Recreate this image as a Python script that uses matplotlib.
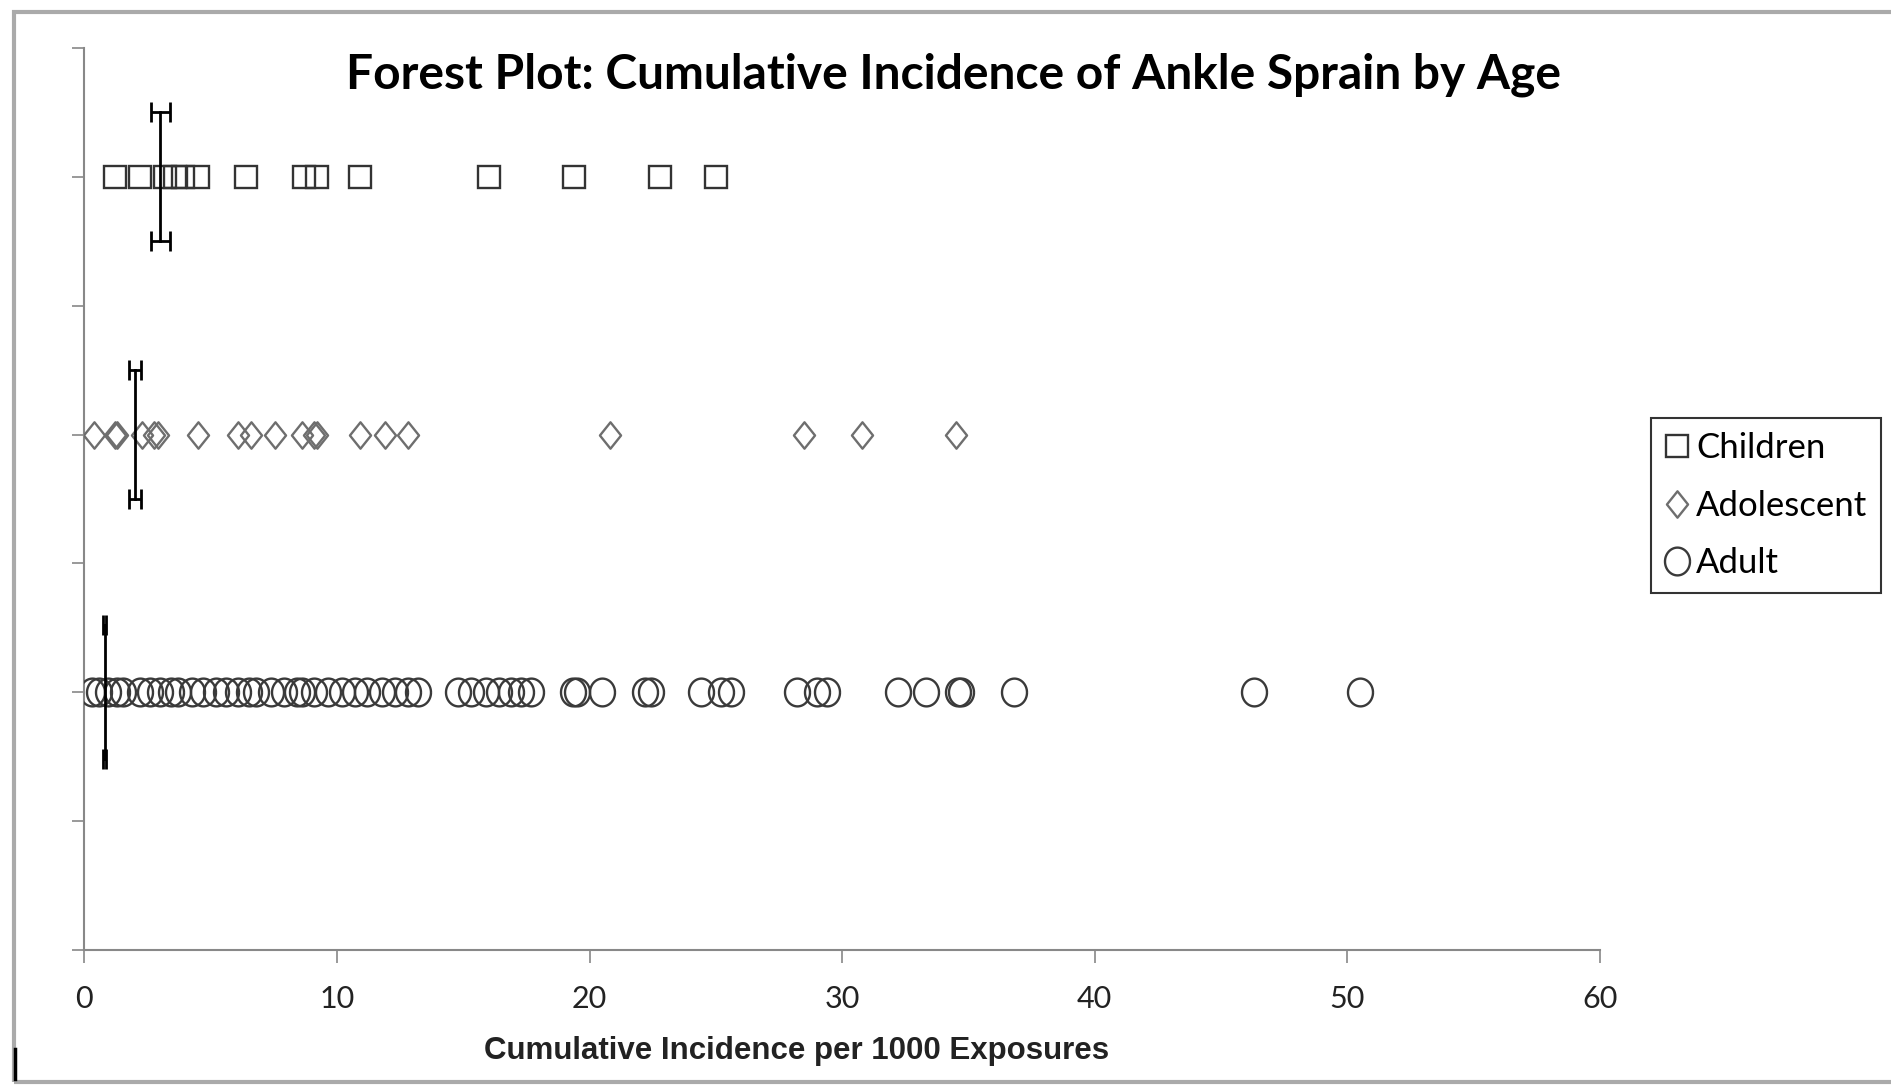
import matplotlib
matplotlib.use("Agg")
import matplotlib.pyplot as plt
from matplotlib.patches import Rectangle
from matplotlib.lines import Line2D
from matplotlib.path import Path
import numpy as np

# ---- data ----
groups = ["Children", "Adolescent", "Adult"]
row_y = [6, 4, 2]

children = [1.2, 2.2, 3.2, 3.6, 3.9, 4.5, 6.4, 8.7, 9.2, 10.9, 16.0, 19.4, 22.8, 25.0]
adolescent = [0.4, 1.2, 1.3, 2.3, 2.75, 2.9, 4.5, 6.1, 6.6, 7.55, 8.6, 9.1, 9.2,
              10.9, 11.9, 12.8, 20.8, 28.5, 30.8, 34.5]
adult = [0.3, 0.6, 0.95, 1.3, 1.55,
         2.2, 2.6, 3.0, 3.45, 3.7,
         4.25, 4.7, 5.2, 5.6, 6.1, 6.5, 6.8,
         7.4, 7.9, 8.4, 8.6, 9.1, 9.65, 10.2, 10.7, 11.2, 11.8, 12.3, 12.8, 13.2,
         14.8, 15.3, 15.9, 16.4, 16.9, 17.3, 17.7,
         19.35, 19.5, 20.5, 22.2, 22.45, 24.4, 25.2, 25.6,
         28.2, 29.0, 29.4, 32.2, 33.3, 34.6, 34.7, 36.8, 46.3, 50.5]

pooled_est = [3.0, 2.0, 0.8]
pooled_half_ci = [0.38, 0.25, 0.05]
pooled_span = [0.5, 0.5, 0.52]

x_ticks = [0, 10, 20, 30, 40, 50, 60]
y_ticks = [0, 1, 2, 3, 4, 5, 6, 7]

title = "Forest Plot: Cumulative Incidence of Ankle Sprain by Age"
xlabel = "Cumulative Incidence per 1000 Exposures"

# ---- styles ----
diamond = Path([(-0.4, 0), (0, 0.5), (0.4, 0), (0, -0.5), (-0.4, 0)],
               [Path.MOVETO, Path.LINETO, Path.LINETO, Path.LINETO, Path.CLOSEPOLY])
t = np.linspace(0, 2 * np.pi, 60)
ellipse = Path(np.column_stack([0.45 * np.cos(t), 0.5 * np.sin(t)]))
styles = [
    dict(marker="s", ms=15.5, mec="#333333"),
    dict(marker=diamond, ms=19, mec="#6e6e6e"),
    dict(marker=ellipse, ms=20, mec="#3a3a3a"),
]

fig = plt.figure(figsize=(18.91, 10.86), dpi=100)
ax = fig.add_axes([0.0446, 0.1252, 0.8015, 0.8306])

series = [children, adolescent, adult]
for vals, y, st in zip(series, row_y, styles):
    ax.plot(vals, [y] * len(vals), linestyle="none", marker=st["marker"],
            ms=st["ms"], mfc="none", mec=st["mec"], mew=1.7, zorder=3)

for est, y, h, sp in zip(pooled_est, row_y, pooled_half_ci, pooled_span):
    ax.errorbar([est, est], [y + sp, y - sp], xerr=[h, h], color="black",
                lw=2, elinewidth=2, capsize=7, capthick=2, zorder=4)

ax.set_xlim(0, 60)
ax.set_ylim(0, 7)
ax.set_xticks(x_ticks)
ax.set_xticklabels([str(t) for t in x_ticks], fontsize=22, family="Lato", color="#222222")
ax.set_yticks(y_ticks)
ax.set_yticklabels([])
ax.tick_params(axis="x", direction="out", length=9, width=1.2, color="#888888", pad=16)
ax.tick_params(axis="y", direction="out", length=9, width=1.2, color="#888888")
for s in ["top", "right"]:
    ax.spines[s].set_visible(False)
for s in ["left", "bottom"]:
    ax.spines[s].set_color("#888888")
    ax.spines[s].set_linewidth(1.5)

fig.text(0.504, 0.931, title, ha="center", va="center", fontsize=34.5,
         fontweight="bold", family="Lato", color="black")
fig.text(0.421, 0.032, xlabel, ha="center", va="center", fontsize=22.5,
         fontweight="bold", family="Liberation Sans", color="#222222")

handles = [Line2D([], [], linestyle="none", marker=st["marker"], ms=st["ms"],
                  mfc="none", mec=st["mec"], mew=1.7) for st in styles]
leg = fig.legend(handles, groups, loc="upper left", bbox_to_anchor=(0.873, 0.615),
                 frameon=True, fancybox=False, handlelength=0.7, handletextpad=0.2,
                 borderpad=0.4, borderaxespad=0, labelspacing=0.74,
                 prop=dict(family="Lato", size=25))
leg.get_frame().set_edgecolor("black")
leg.get_frame().set_linewidth(1.5)

# outer chart border
fig.patches.append(Rectangle((0.0074, 0.0037), 1.2, 0.985, transform=fig.transFigure,
                             fill=False, edgecolor="#aaaaaa", lw=3, zorder=0))
fig.add_artist(Line2D([0.0077, 0.0077], [0.006, 0.034], transform=fig.transFigure,
                      color="black", lw=2.5))

fig.savefig("out.png", dpi=100, facecolor="white")
